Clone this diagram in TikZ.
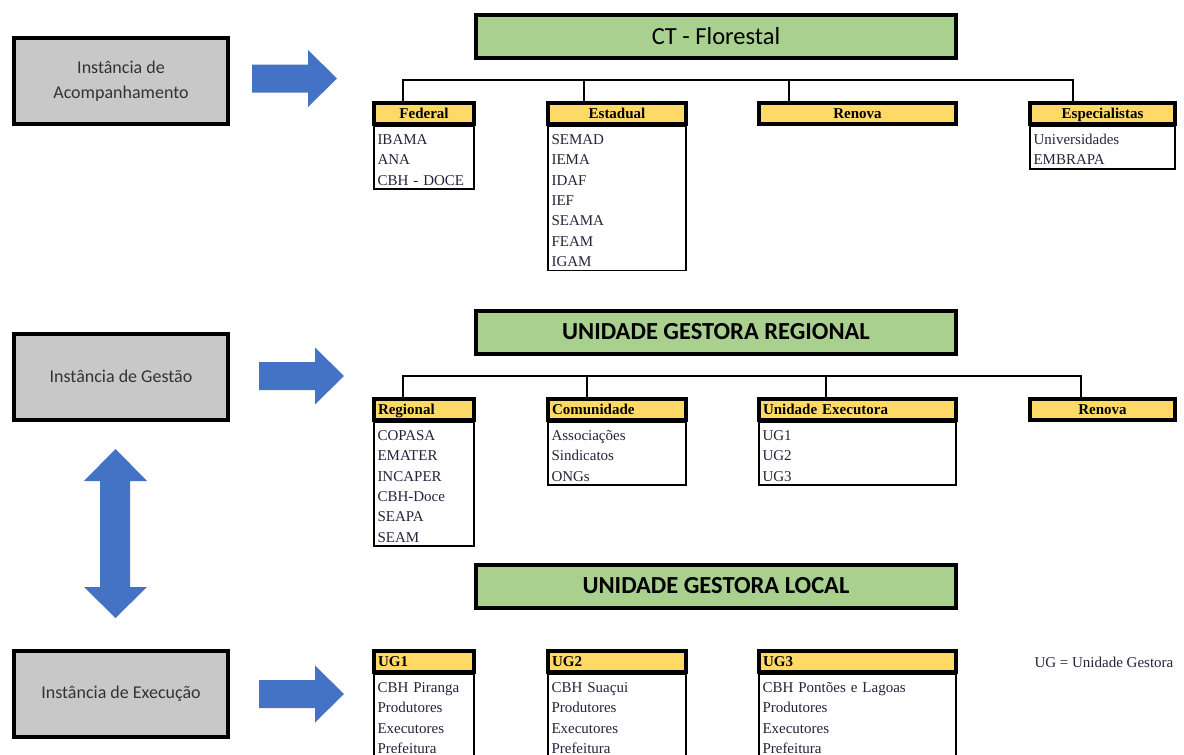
\documentclass[tikz,border=0pt]{standalone}
\usepackage{fontspec}
\setmainfont{Liberation Serif}
\newfontfamily\calfont{Carlito}
\usetikzlibrary{positioning}

\definecolor{boxgray}{RGB}{200,200,200}
\definecolor{titlegreen}{RGB}{169,208,142}
\definecolor{headyellow}{RGB}{255,217,102}
\definecolor{arrowblue}{RGB}{68,114,196}
\definecolor{listink}{RGB}{35,35,60}

\newcommand{\firstline}{\rule{0pt}{17pt}}
\newcommand{\lastline}{\rule[-3pt]{0pt}{3pt}}

\begin{document}
\begin{tikzpicture}[x=1pt, y=-1pt,
  instbox/.style={draw, line width=4pt, fill=boxgray, minimum width=214pt,
    minimum height=86pt, align=center, text=black!80,
    font=\calfont\fontsize{18}{25}\selectfont},
  titlebox/.style={draw, line width=4pt, fill=titlegreen, minimum width=480pt,
    minimum height=43pt, font=\calfont\fontsize{24.5}{28}\selectfont},
  headbox/.style={draw, line width=3.5pt, fill=headyellow, minimum height=21pt,
    inner xsep=4pt, inner ysep=0pt, text height=12pt, text depth=2pt,
    font=\bfseries\fontsize{15}{17}\selectfont},
  listbox/.style={draw, line width=1.5pt, align=left, inner xsep=3.5pt,
    inner ysep=1pt, text=listink, font=\fontsize{15}{20.3}\selectfont},
  treeline/.style={line width=2pt},
  blockarrow/.style={fill=arrowblue}]

  \useasboundingbox (0,0) rectangle (1184,755);

  % Left column: instances
  \node[instbox] (acomp) at (121,81) {Instância de\\Acompanhamento};
  \node[instbox] (gest) at (121,376.5) {Instância de Gestão};
  \node[instbox] (exec) at (121,693.5) {Instância de Execução};

  % Block arrows
  \foreach \ax/\ay in {252/78.5, 259/376, 259/694}
    \fill[blockarrow] (\ax,\ay-14) -- (\ax+56,\ay-14) -- (\ax+56,\ay-28.5)
      -- (\ax+85,\ay) -- (\ax+56,\ay+28.5) -- (\ax+56,\ay+14) -- (\ax,\ay+14) -- cycle;
  \fill[blockarrow] (100,481) -- (84,481) -- (115.5,449) -- (147,481) -- (130,481)
    -- (130,587) -- (147,587) -- (115.5,618) -- (84,587) -- (100,587) -- cycle;

  % Titles
  \node[titlebox] (ctf) at (716,36.5) {CT - Florestal};
  \node[titlebox] (ugr) at (716,332) {\bfseries UNIDADE GESTORA REGIONAL};
  \node[titlebox] (ugl) at (716,586) {\bfseries UNIDADE GESTORA LOCAL};

  % Acompanhamento
  \node[headbox, minimum width=100pt] (fed) at (424,113.5) {Federal};
  \node[headbox, minimum width=138pt] (est) at (617,113.5) {Estadual};
  \node[headbox, minimum width=197pt] (ren) at (857.5,113.5) {Renova};
  \node[headbox, minimum width=145pt] (esp) at (1102.5,113.5) {Especialistas};
  \node[listbox, text width=93pt, below=0pt of fed] (fedlist)
    {\firstline IBAMA\\ANA\\CBH - DOCE\lastline};
  \node[listbox, text width=131pt, below=0pt of est] (estlist)
    {\firstline SEMAD\\IEMA\\IDAF\\IEF\\SEAMA\\FEAM\\IGAM\lastline};
  \node[listbox, text width=138pt, below=0pt of esp] (esplist)
    {\firstline Universidades\\EMBRAPA\lastline};

  \coordinate (busA) at (0,80);
  \coordinate (fedtop) at ([xshift=-21pt]fed.north);
  \coordinate (esttop) at ([xshift=-33pt]est.north);
  \coordinate (rentop) at ([xshift=-68.5pt]ren.north);
  \coordinate (esptop) at ([xshift=-29.5pt]esp.north);
  \draw[treeline] (fedtop) |- (busA -| esptop) -- (esptop);
  \draw[treeline] (esttop) -- (esttop |- busA);
  \draw[treeline] (rentop) -- (rentop |- busA);

  % Gestao
  \node[headbox, text width=92pt, align=left] (reg) at (424,409.5) {Regional};
  \node[headbox, text width=130pt, align=left] (com) at (617,409.5) {Comunidade};
  \node[headbox, text width=189pt, align=left] (uex) at (857.5,409.5) {Unidade Executora};
  \node[headbox, minimum width=145pt] (ren2) at (1102.5,409.5) {Renova};
  \node[listbox, text width=93pt, below=0pt of reg] (reglist)
    {\firstline COPASA\\EMATER\\INCAPER\\CBH-Doce\\SEAPA\\SEAM\lastline};
  \node[listbox, text width=131pt, below=0pt of com] (comlist)
    {\firstline Associações\\Sindicatos\\ONGs\lastline};
  \node[listbox, text width=190pt, below=0pt of uex] (uexlist)
    {\firstline UG1\\UG2\\UG3\lastline};

  \coordinate (busB) at (0,376);
  \coordinate (regtop) at ([xshift=-21pt]reg.north);
  \coordinate (comtop) at ([xshift=-30pt]com.north);
  \coordinate (uextop) at ([xshift=-31.5pt]uex.north);
  \coordinate (ren2top) at ([xshift=-21.5pt]ren2.north);
  \draw[treeline] (regtop) |- (busB -| ren2top) -- (ren2top);
  \draw[treeline] (comtop) -- (comtop |- busB);
  \draw[treeline] (uextop) -- (uextop |- busB);

  % Execucao
  \node[headbox, text width=92pt, align=left] (ug1) at (424,661.5) {UG1};
  \node[headbox, text width=130pt, align=left] (ug2) at (617,661.5) {UG2};
  \node[headbox, text width=189pt, align=left] (ug3) at (857.5,661.5) {UG3};
  \node[listbox, text width=93pt, below=0pt of ug1] (ug1list)
    {\firstline CBH Piranga\\Produtores\\Executores\\Prefeitura\rule[-20pt]{0pt}{20pt}};
  \node[listbox, text width=131pt, below=0pt of ug2] (ug2list)
    {\firstline CBH Suaçui\\Produtores\\Executores\\Prefeitura\rule[-20pt]{0pt}{20pt}};
  \node[listbox, text width=190pt, below=0pt of ug3] (ug3list)
    {\firstline CBH Pontões e Lagoas\\Produtores\\Executores\\Prefeitura\rule[-20pt]{0pt}{20pt}};

  \node[anchor=west, text=listink, font=\fontsize{15}{17}\selectfont] (legend)
    at (1031,662) {UG = Unidade Gestora};
\end{tikzpicture}
\end{document}
